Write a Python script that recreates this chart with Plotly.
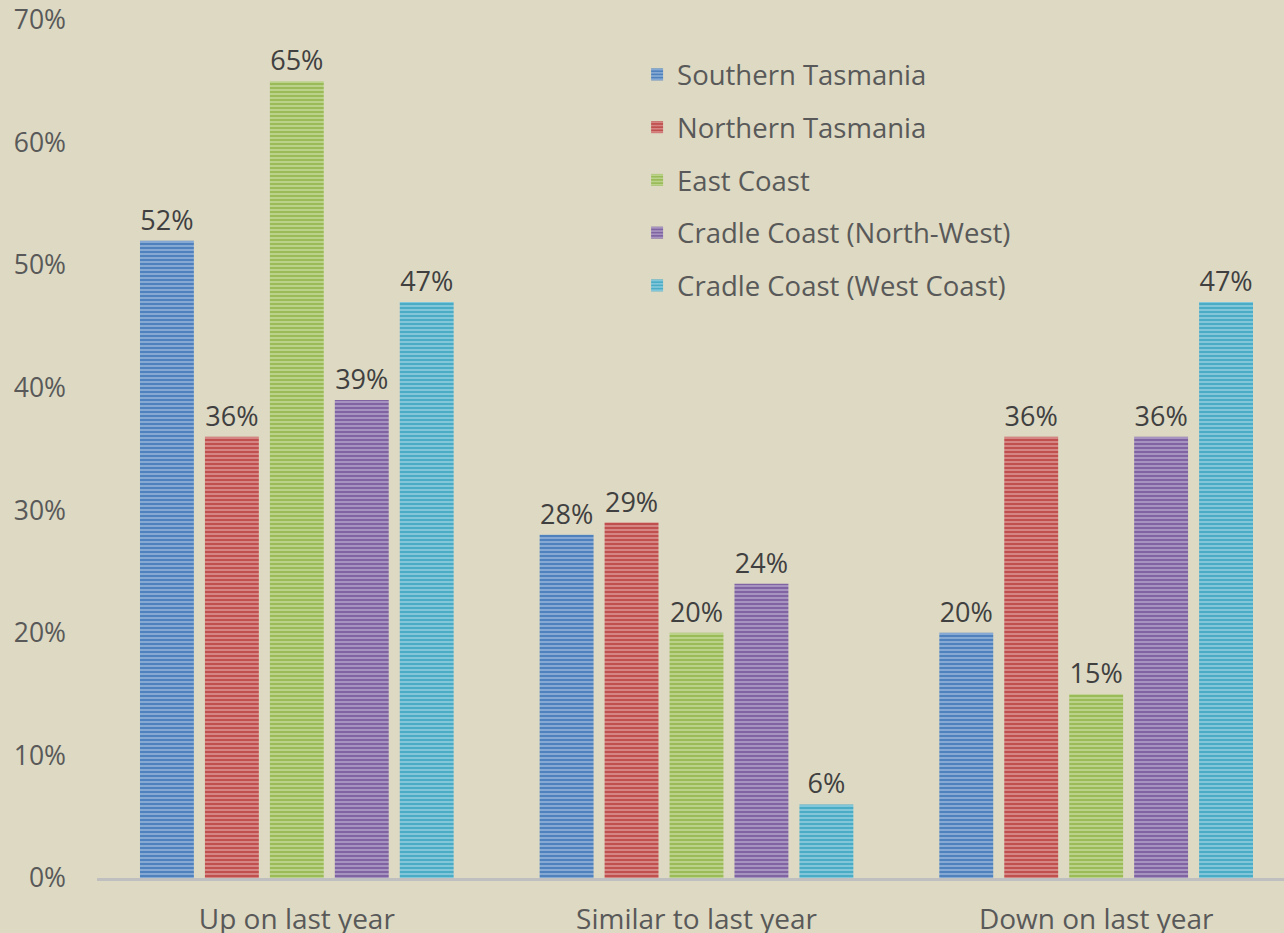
import plotly.graph_objects as go

categories = ["Up on last year", "Similar to last year", "Down on last year"]
series_names = ["Southern Tasmania", "Northern Tasmania", "East Coast",
                "Cradle Coast (North-West)", "Cradle Coast (West Coast)"]
southern = [0.52, 0.28, 0.20]
northern = [0.36, 0.29, 0.36]
east = [0.65, 0.20, 0.15]
cradle_nw = [0.39, 0.24, 0.36]
cradle_wc = [0.47, 0.06, 0.47]
values = [southern, northern, east, cradle_nw, cradle_wc]
colors = ["#4F81BD", "#C0504D", "#9BBB59", "#8064A2", "#4BACC6"]
light = ["#C9D9EE", "#F0C8C7", "#E2EDC9", "#D6CCE3", "#C5E7F0"]

fig = go.Figure()
for name, vals, c, lc in zip(series_names, values, colors, light):
    fig.add_trace(go.Bar(
        x=categories, y=vals, name=name, legendgroup=name,
        marker=dict(color=c, line=dict(width=0),
                    pattern=dict(shape="-", size=4, solidity=0.45,
                                 fgcolor=lc, fillmode="overlay")),
        text=[f"{round(v*100)}%" for v in vals],
        textposition="outside", cliponaxis=False,
        textfont=dict(size=27, color="#404040", family="Open Sans"),
    ))

fig.update_layout(
    width=1284, height=933,
    paper_bgcolor="#DDD9C3", plot_bgcolor="#DDD9C3",
    margin=dict(l=97, r=0, t=20, b=55),
    barmode="group", bargap=0.1875, bargroupgap=0.17,
    font=dict(family="Open Sans", size=27, color="#595959"),
    showlegend=True,
    legend=dict(x=0.455, y=0.965, xanchor="left", yanchor="top",
                bgcolor="rgba(0,0,0,0)", font=dict(size=27.5, color="#595959"),
                traceorder="grouped", tracegroupgap=14, itemwidth=30),
    xaxis=dict(range=[-0.5, 2.47], showline=True, linecolor="#BFBFBF", linewidth=3,
               ticks="", showgrid=False, ticklabelstandoff=14, automargin=False,
               tickfont=dict(size=28, color="#595959")),
    yaxis=dict(range=[0, 0.7], tickformat=".0%", dtick=0.1, showgrid=False,
               zeroline=False, showline=False, ticks="", ticklabelstandoff=30,
               automargin=False, tickfont=dict(size=26.5, color="#595959")),
)

fig.write_html("out.html")
